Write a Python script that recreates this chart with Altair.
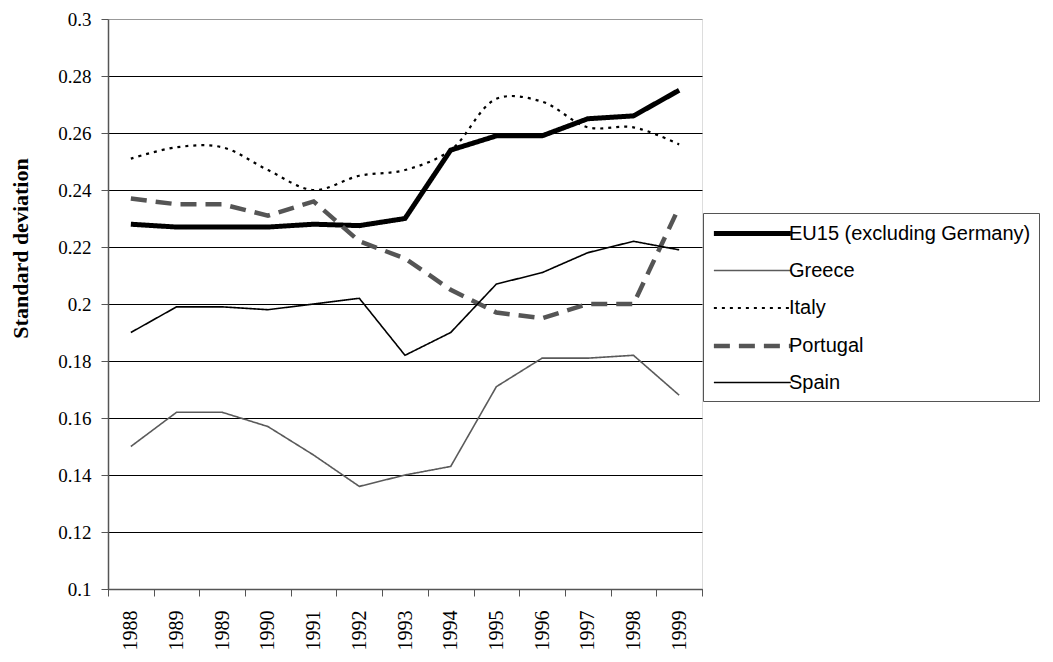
import altair as alt
import pandas as pd

years = ["1988", "1989", "1989", "1990", "1991", "1992", "1993", "1994",
         "1995", "1996", "1997", "1998", "1999"]
series_names = ["EU15 (excluding Germany)", "Greece", "Italy", "Portugal", "Spain"]

eu15 = [0.228, 0.227, 0.227, 0.227, 0.228, 0.2275, 0.230, 0.254, 0.259, 0.259, 0.265, 0.266, 0.275]
greece = [0.150, 0.162, 0.162, 0.157, 0.147, 0.136, 0.140, 0.143, 0.171, 0.181, 0.181, 0.182, 0.168]
italy = [0.251, 0.255, 0.255, 0.247, 0.240, 0.245, 0.247, 0.254, 0.272, 0.271, 0.262, 0.262, 0.256]
portugal = [0.237, 0.235, 0.235, 0.231, 0.236, 0.222, 0.216, 0.205, 0.197, 0.195, 0.200, 0.200, 0.234]
spain = [0.190, 0.199, 0.199, 0.198, 0.200, 0.202, 0.182, 0.190, 0.207, 0.211, 0.218, 0.222, 0.219]

y_ticks = [0.1, 0.12, 0.14, 0.16, 0.18, 0.2, 0.22, 0.24, 0.26, 0.28, 0.3]

rows = []
for name, vals in zip(series_names, [eu15, greece, italy, portugal, spain]):
    for i, v in enumerate(vals):
        rows.append({"idx": i, "series": name, "value": v})
df = pd.DataFrame(rows)

label_expr = "[" + ",".join("'%s'" % y for y in years) + "][datum.value]"

color_scale = alt.Scale(domain=series_names,
                        range=["#000000", "#5a5a5a", "#000000", "#555555", "#000000"])
width_scale = alt.Scale(type="ordinal", domain=series_names, range=[5, 1.6, 2.2, 4.5, 1.6])
dash_scale = alt.Scale(domain=series_names,
                       range=[[1, 0], [1, 0], [3, 5], [16, 9], [1, 0]])

legend = alt.Legend(
    title=None, orient="none", legendX=595, legendY=194,
    symbolType="M-1,0H7", symbolSize=370, labelOffset=53, labelLimit=400,
    labelFont="Liberation Sans", labelFontSize=20, labelColor="black",
    strokeColor="#555555", fillColor="white", padding=8, rowPadding=16,
)

base = alt.Chart(df).encode(
    x=alt.X("idx:O", title=None,
            axis=alt.Axis(labelExpr=label_expr, labelAngle=270, labelAlign="right",
                          labelBaseline="middle", tickBand="extent", tickSize=7,
                          labelPadding=14, labelFont="Liberation Serif",
                          labelFontSize=20, labelColor="black",
                          domainColor="#555555", tickColor="#555555",
                          domainWidth=1.5, grid=False)),
    y=alt.Y("value:Q", title="Standard deviation",
            scale=alt.Scale(domain=[0.1, 0.3], nice=False, zero=False),
            axis=alt.Axis(values=y_ticks, format="~g", tickSize=7, labelPadding=10,
                          labelFont="Liberation Serif", labelFontSize=19,
                          labelColor="black", domainColor="#555555",
                          tickColor="#555555", domainWidth=1.5,
                          gridColor={"condition": {"test": "datum.value >= 0.299", "value": "#999999"}, "value": "#000000"},
                          gridWidth=1,
                          titleFont="Liberation Serif", titleFontSize=22,
                          titleFontWeight="bold", titleColor="black",
                          titleX=-76, titleY=229, titleAngle=270,
                          titleBaseline="bottom", titleAlign="center")),
    color=alt.Color("series:N", scale=color_scale, legend=legend),
    strokeWidth=alt.StrokeWidth("series:N", scale=width_scale, legend=legend),
    strokeDash=alt.StrokeDash("series:N", scale=dash_scale, legend=legend),
)

italy_layer = base.mark_line(interpolate="catmull-rom").transform_filter(
    alt.datum.series == "Italy")
other_layer = base.mark_line().transform_filter(alt.datum.series != "Italy")

chart = alt.layer(italy_layer, other_layer).properties(
    width=594, height=570,
    autosize=alt.AutoSizeParams(type="none"),
    padding={"left": 100, "top": 11, "right": 343, "bottom": 63},
).configure_view(stroke="#999999", strokeWidth=1.5).configure(background="white")

chart.save("out.html", embed_options={"renderer": "svg", "actions": False})
